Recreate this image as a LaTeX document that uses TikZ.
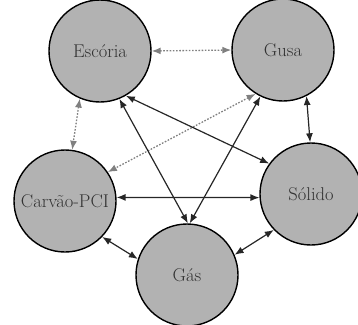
\documentclass[tikz,border=0pt]{standalone}
\usetikzlibrary{arrows.meta}
\begin{document}
\begin{tikzpicture}[x=1pt,y=-1pt]
        \tikzstyle{fase} = [circle, minimum size=102pt, inner sep=0pt, draw=black, line width=1.4pt, fill=gray!60, text=black!80, font=\fontsize{18.5}{21}\selectfont]
        \tikzstyle{arrow} = [line width=1.2pt, black!85, <->, >={Latex[length=9pt,width=7pt]}]
        \tikzstyle{dots} = [line width=1.3pt, gray, dash pattern=on 1.6pt off 1.6pt, <->, >={Latex[length=9pt,width=7pt]}]
        \useasboundingbox (0,0) rectangle (358,324);
        \node [fase] (esc) at (100, 51) {Escória};
        \node [fase] (gusa) at (283, 50) {Gusa};
        \node [fase] (carv) at (65, 201) {Carvão-PCI};
        \node [fase] (sol) at (311, 194) {Sólido};
        \node [fase] (gas) at (187, 275) {Gás};
     \draw[dots] (esc.east) to (gusa.west);
     \draw[dots] (esc.-113) to (carv.82);
     \draw[dots] (gusa.-122) to (carv.34);
     \draw[arrow] (esc.-68) to (gas.89);
     \draw[arrow] (esc.-60) to (sol.144);
     \draw[arrow] (gusa.-116) to (gas.87);
     \draw[arrow] (gusa.-63) to (sol.91);
     \draw[arrow] (carv.4) to (sol.184);
     \draw[arrow] (carv.-44) to (gas.162);
     \draw[arrow] (sol.-136) to (gas.23);
    \end{tikzpicture}
\end{document}
